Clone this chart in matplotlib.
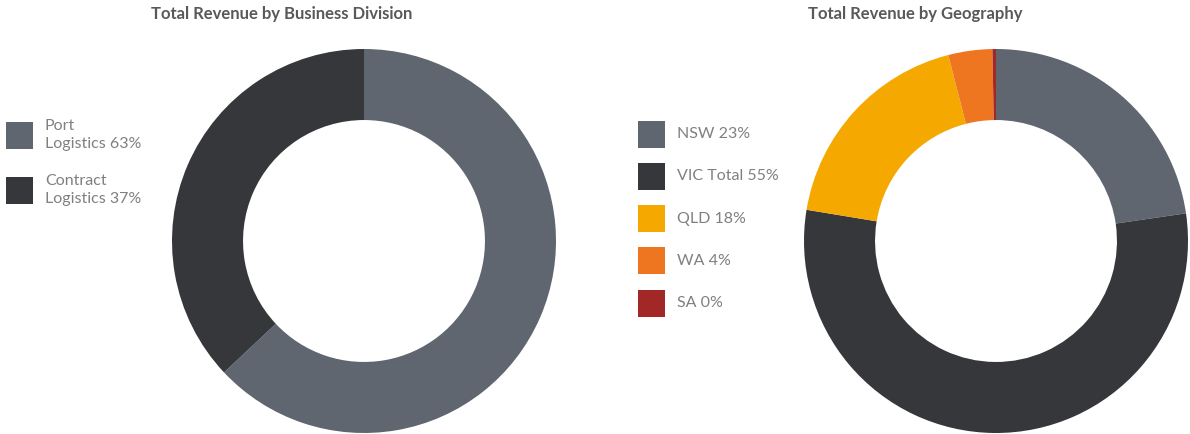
import matplotlib
matplotlib.use("Agg")
import matplotlib.pyplot as plt
from matplotlib.patches import Rectangle

plt.rcParams["font.family"] = ["Lato", "DejaVu Sans"]

# revenue split by business division
div_labels = ["Port\nLogistics", "Contract\nLogistics"]
div_share = [63, 37]
div_colors = ["#5f6670", "#36373b"]

# revenue split by geography
geo_labels = ["NSW", "VIC Total", "QLD", "WA", "SA"]
geo_share = [22.7, 54.9, 18.4, 3.7, 0.3]
geo_colors = ["#5f6670", "#36373b", "#f5a800", "#ee7621", "#a22828"]

W, H = 1190, 434
fig = plt.figure(figsize=(W / 100, H / 100), dpi=100)

R = 192  # donut radius in px
def donut_axes(cx, cy):
    return fig.add_axes([(cx - R) / W, (H - cy - R) / H, 2 * R / W, 2 * R / H])

def donut(ax, vals, colors):
    ax.pie(vals, colors=colors, startangle=90, counterclock=False,
           wedgeprops=dict(width=0.37, linewidth=0))
    ax.set_xlim(-1, 1); ax.set_ylim(-1, 1)
    ax.set_aspect("equal")
    ax.axis("off")

def legend(x0, y0, step, labels, vals, colors):
    for i, (lab, v, c) in enumerate(zip(labels, vals, colors)):
        y = y0 + i * step
        fig.patches.append(Rectangle((x0 / W, 1 - (y + 13.5) / H), 27 / W, 27 / H,
                                     transform=fig.transFigure, color=c, lw=0))
        fig.text((x0 + 39) / W, 1 - y / H, f"{lab} {v:.0f}%", ha="left", va="center",
                 fontsize=11.5, color="#808080", linespacing=1.45)

ax1 = donut_axes(364, 241)
donut(ax1, div_share, div_colors)
ax2 = donut_axes(996, 241)
donut(ax2, geo_share, geo_colors)

legend(6, 135, 55, div_labels, div_share, div_colors)
legend(638, 134, 42.3, geo_labels, geo_share, geo_colors)

fig.text(282 / W, 1 - 14 / H, "Total Revenue by Business Division", ha="center", va="center",
         fontsize=12, fontweight="bold", color="#595959")
fig.text(915 / W, 1 - 14 / H, "Total Revenue by Geography", ha="center", va="center",
         fontsize=12, fontweight="bold", color="#595959")

fig.savefig("out.png", dpi=100, facecolor="white")
